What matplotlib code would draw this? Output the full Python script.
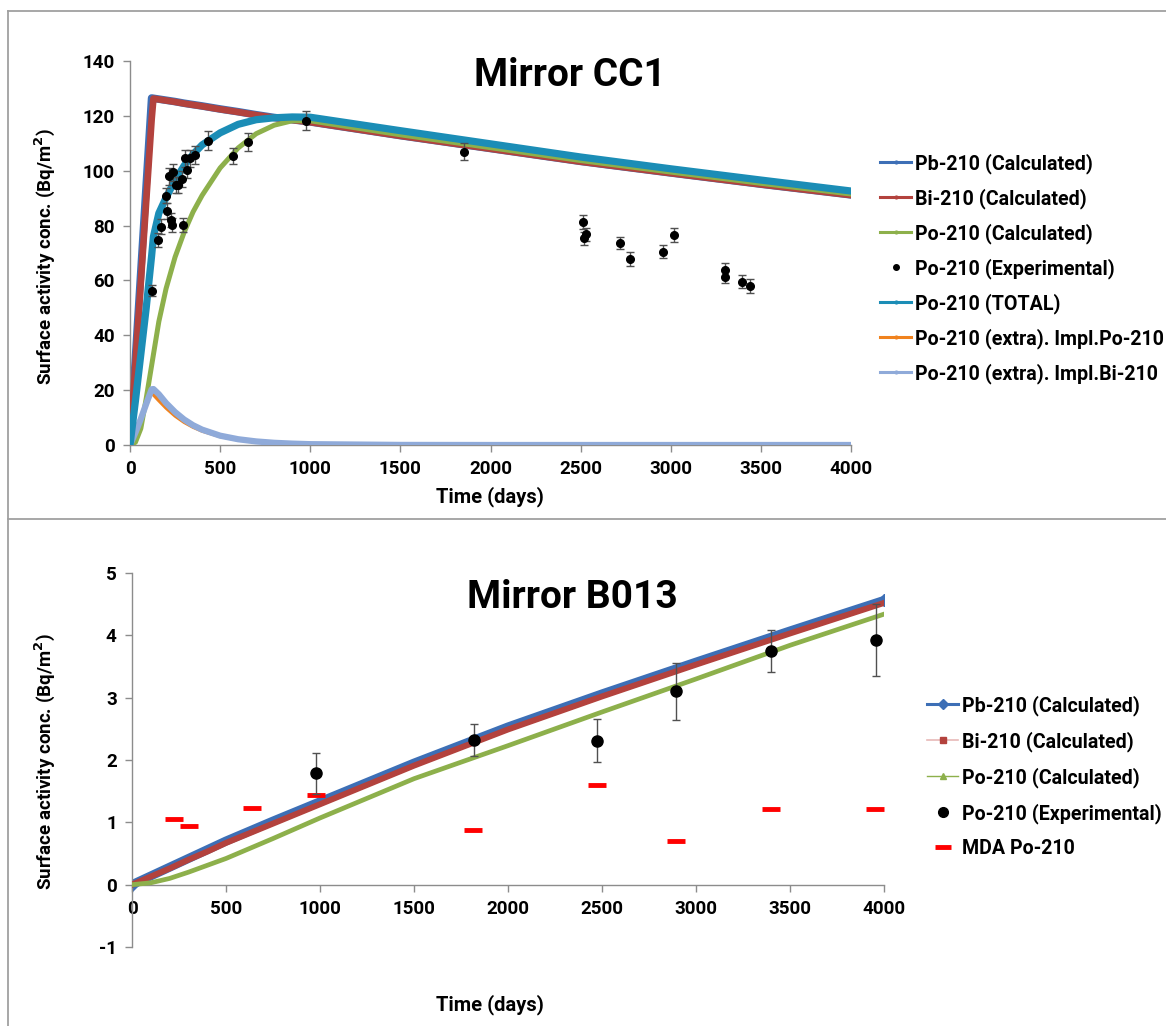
import matplotlib
matplotlib.use('Agg')
import matplotlib.pyplot as plt
from matplotlib.lines import Line2D

plt.rcParams['font.family'] = ['Roboto', 'DejaVu Sans']
plt.rcParams['font.weight'] = 'bold'
plt.rcParams['axes.unicode_minus'] = False

# ---------------- data, Mirror CC1 ----------------
t_cc1 = [0, 30, 60, 90, 120, 130, 160, 200, 250, 300, 350, 400, 500, 600, 700, 800, 900, 1000,
         1500, 2000, 2500, 3000, 3500, 4000]
pb_cc1 = [0, 31.6, 63.2, 94.9, 126.5, 126.4, 126.1, 125.7, 125.2, 124.6, 124.1, 123.6, 122.5, 121.5,
          120.4, 119.4, 118.6, 117.8, 112.8, 108.1, 103.4, 99.2, 95.1, 91.2]
bi_cc1 = [0, 29.6, 59.3, 88.9, 118.6, 126.3, 126.0, 125.6, 125.1, 124.5, 124.0, 123.5, 122.4, 121.4,
          120.3, 119.3, 118.5, 117.7, 112.7, 108.0, 103.3, 99.1, 95.0, 91.1]
po_cc1 = [0, 1, 6, 17, 29, 33, 45, 57, 68.5, 77.5, 85, 91, 101, 108.3, 113.5, 116.6, 118.2, 118.2,
          113.1, 108.4, 103.7, 99.5, 95.4, 91.5]
total_cc1 = [0, 16, 33, 50, 69, 76, 84.5, 90.2, 96.5, 101.8, 106, 109.4, 113.8, 116.9, 118.6, 119.3,
             119.6, 119.5, 114.6, 109.8, 105.0, 100.7, 96.6, 92.6]
impl_po = [0, 5, 10, 15, 19.3, 18.3, 16.2, 13.5, 10.6, 8.3, 6.5, 5.1, 3.1, 1.9, 1.2, 0.7, 0.45, 0.28,
           0.02, 0, 0, 0, 0, 0]
impl_bi = [0, 4.5, 9.5, 15, 20.3, 20.4, 18.5, 15.3, 12, 9.3, 7.2, 5.6, 3.4, 2.1, 1.3, 0.8, 0.5, 0.3,
           0.03, 0, 0, 0, 0, 0]

t_exp_cc1 = [124, 157, 170, 200, 207, 217, 228, 231, 241, 256, 269, 291, 296, 306, 315, 333, 361,
             435, 570, 654, 976, 1852, 2511, 2519, 2532, 2719, 2772, 2956, 3020, 3302, 3302, 3394, 3441]
po_exp_cc1 = [56.3, 74.8, 79.6, 90.9, 85.3, 97.9, 82.0, 80.2, 99.4, 94.8, 94.8, 97.0, 80.2, 104.5,
              100.3, 104.5, 105.8, 111.0, 105.4, 110.4, 118.3, 107.0, 81.3, 75.4, 76.8, 73.5, 67.8,
              70.5, 76.5, 63.8, 61.3, 59.6, 58.1]
err_cc1 = [2.0, 2.5, 2.7, 2.8, 2.8, 3.0, 2.7, 2.7, 3.0, 3.0, 3.0, 3.0, 2.7, 3.2, 3.1, 3.2, 3.2,
           3.3, 3.0, 3.3, 3.5, 3.2, 2.7, 2.4, 2.4, 2.2, 2.6, 2.3, 2.5, 2.4, 2.4, 2.2, 2.6]

# ---------------- data, Mirror B013 ----------------
t_b013 = [0, 100, 200, 300, 400, 500, 750, 1000, 1500, 2000, 2500, 3000, 3500, 4000]
pb_b013 = [0, 0.14, 0.28, 0.42, 0.56, 0.70, 1.02, 1.33, 1.95, 2.53, 3.06, 3.57, 4.07, 4.56]
bi_b013 = [0, 0.13, 0.26, 0.40, 0.53, 0.67, 0.98, 1.29, 1.91, 2.49, 3.02, 3.53, 4.03, 4.52]
po_b013 = [0, 0.03, 0.10, 0.20, 0.31, 0.42, 0.74, 1.07, 1.70, 2.23, 2.77, 3.30, 3.84, 4.34]

t_exp_b013 = [977, 1817, 2471, 2894, 3401, 3955]
po_exp_b013 = [1.79, 2.32, 2.31, 3.10, 3.75, 3.92]
err_b013 = [0.33, 0.26, 0.345, 0.46, 0.34, 0.58]

t_mda = [223, 305, 638, 977, 1816, 2471, 2894, 3399, 3954]
mda = [1.05, 0.94, 1.23, 1.44, 0.87, 1.60, 0.70, 1.22, 1.21]

c_pb = '#3D6FB6'
c_bi = '#B3423D'
c_po = '#8DB04B'
c_tot = '#1B8DB6'
c_or = '#F0821E'
c_lb = '#8FAAD9'
c_axis = '#8C8C8C'

fig = plt.figure(figsize=(11.66, 10.26), dpi=100)

# chart frames like the Excel sheets
for xs, ys in [([8/1166, 8/1166], [0, 1 - 11/1026]),
               ([8/1166, 1], [1 - 11/1026, 1 - 11/1026]),
               ([8/1166, 1], [1 - 519/1026, 1 - 519/1026])]:
    fig.add_artist(Line2D(xs, ys, color='#A0A0A0', lw=1.3, transform=fig.transFigure))


def style_axes(ax):
    for s in ['top', 'right']:
        ax.spines[s].set_visible(False)
    for s in ['left', 'bottom']:
        ax.spines[s].set_color(c_axis)
        ax.spines[s].set_linewidth(1)
    ax.tick_params(axis='both', colors=c_axis, labelcolor='black', labelsize=13.5,
                   length=5, width=1, direction='out')
    ax.tick_params(axis='y', pad=6)
    ax.tick_params(axis='x', pad=6)
    for lab in ax.get_xticklabels() + ax.get_yticklabels():
        lab.set_fontweight('bold')


# ---------------- top panel ----------------
ax1 = fig.add_axes([130/1166, 1 - 445/1026, 721/1166, 384/1026])
ax1.plot(t_cc1, pb_cc1, color=c_pb, lw=5.5, zorder=2)
ax1.plot(t_cc1, bi_cc1, color=c_bi, lw=4.8, zorder=3)
ax1.plot(t_cc1, po_cc1, color=c_po, lw=3.6, zorder=4)
ax1.errorbar(t_exp_cc1, po_exp_cc1, yerr=err_cc1, fmt='o', color='black', ms=5.5,
             ecolor='#505050', elinewidth=1, capsize=3, zorder=6)
ax1.plot(t_cc1, total_cc1, color=c_tot, lw=5.2, zorder=5)
ax1.plot(t_cc1, impl_po, color=c_or, lw=2.5, zorder=4)
ax1.plot(t_cc1, impl_bi, color=c_lb, lw=4.5, zorder=4)
ax1.set_xlim(0, 4000)
ax1.set_ylim(0, 140)
ax1.set_xticks(range(0, 4001, 500))
ax1.set_yticks(range(0, 141, 20))
style_axes(ax1)

h_top = [Line2D([], [], color=c_pb, lw=2.2, marker='.', ms=4),
         Line2D([], [], color=c_bi, lw=2.2, marker='.', ms=4),
         Line2D([], [], color=c_po, lw=2.2, marker='.', ms=4),
         Line2D([], [], color='black', lw=0, marker='o', ms=4),
         Line2D([], [], color=c_tot, lw=2.2, marker='.', ms=4),
         Line2D([], [], color=c_or, lw=2.2, marker='.', ms=4),
         Line2D([], [], color=c_lb, lw=2.2, marker='.', ms=4)]
l_top = ['Pb-210 (Calculated)', 'Bi-210 (Calculated)', 'Po-210 (Calculated)',
         'Po-210 (Experimental)', 'Po-210 (TOTAL)', 'Po-210 (extra). Impl.Po-210',
         'Po-210 (extra). Impl.Bi-210']
ax1.legend(h_top, l_top, loc='upper left', bbox_to_anchor=(880/1166, 1 - 153/1026),
           bbox_transform=fig.transFigure, frameon=False, handlelength=1.6,
           handletextpad=0.2, labelspacing=0.73, borderpad=0, borderaxespad=0,
           prop={'weight': 'bold', 'size': 14.1})

fig.text(570/1166, 1 - 75/1026, 'Mirror CC1', ha='center', va='center', fontsize=28,
         fontweight='bold')
fig.text(490/1166, 1 - 497/1026, 'Time (days)', ha='center', va='center', fontsize=14.5,
         fontweight='bold')
fig.text(45/1166, 1 - 257/1026, 'Surface activity conc. (Bq/m$^\\mathbf{2}$)', ha='center',
         va='center', rotation=90, fontsize=13.5, fontweight='bold')

# ---------------- bottom panel ----------------
ax2 = fig.add_axes([132/1166, 1 - 947/1026, 752/1166, 374/1026])
ax2.plot(t_b013, pb_b013, color=c_pb, lw=6.5, marker='D', ms=6, markevery=[0, -1], zorder=2)
ax2.plot(t_b013, bi_b013, color=c_bi, lw=4.3, zorder=3)
ax2.plot(t_b013, po_b013, color=c_po, lw=3.4, zorder=4)
ax2.errorbar(t_exp_b013, po_exp_b013, yerr=err_b013, fmt='o', color='black', ms=8,
             ecolor='#505050', elinewidth=1, capsize=3, zorder=6)
ax2.plot(t_mda, mda, ls='none', marker='_', color='#FF0000', ms=13, mew=3.5, zorder=5)
ax2.set_xlim(0, 4000)
ax2.set_ylim(-1, 5)
ax2.set_xticks(range(0, 4001, 500))
ax2.set_yticks(range(-1, 6))
ax2.spines['bottom'].set_position(('data', 0))
style_axes(ax2)

h_bot = [Line2D([], [], color=c_pb, lw=2.2, marker='D', ms=5),
         Line2D([], [], color='#E8B9B8', lw=1.2, marker='s', ms=4, mfc=c_bi, mec=c_bi),
         Line2D([], [], color=c_po, lw=1.0, marker='^', ms=4),
         Line2D([], [], color='black', lw=0, marker='o', ms=7),
         Line2D([], [], color='#FF0000', lw=0, marker='_', ms=11, mew=3.5)]
l_bot = ['Pb-210 (Calculated)', 'Bi-210 (Calculated)', 'Po-210 (Calculated)',
         'Po-210 (Experimental)', 'MDA Po-210']
ax2.legend(h_bot, l_bot, loc='upper left', bbox_to_anchor=(927/1166, 1 - 695/1026),
           bbox_transform=fig.transFigure, frameon=False, handlelength=1.6,
           handletextpad=0.2, labelspacing=0.78, borderpad=0, borderaxespad=0,
           prop={'weight': 'bold', 'size': 14.1})

fig.text(572/1166, 1 - 597/1026, 'Mirror B013', ha='center', va='center', fontsize=28,
         fontweight='bold')
fig.text(490/1166, 1 - 1005/1026, 'Time (days)', ha='center', va='center', fontsize=14.5,
         fontweight='bold')
fig.text(45/1166, 1 - 762/1026, 'Surface activity conc. (Bq/m$^\\mathbf{2}$)', ha='center',
         va='center', rotation=90, fontsize=13.5, fontweight='bold')

fig.savefig('out.png', dpi=100)
